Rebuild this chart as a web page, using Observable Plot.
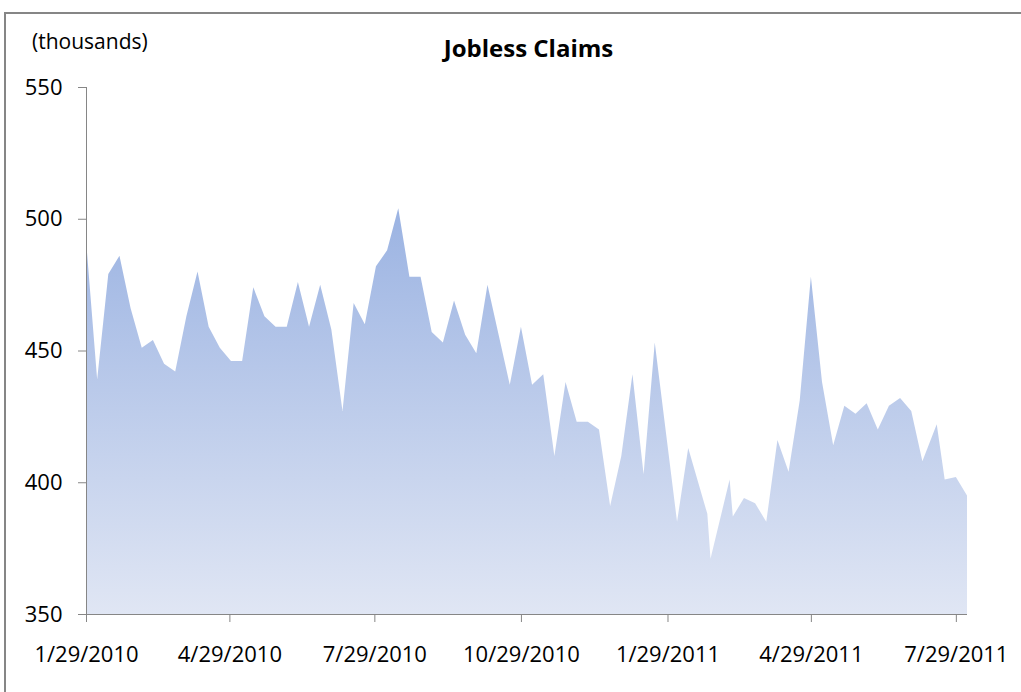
<!DOCTYPE html>
<html>
<head>
<meta charset="utf-8">
<script src="https://cdn.jsdelivr.net/npm/d3@7"></script>
<script src="https://cdn.jsdelivr.net/npm/@observablehq/plot@0.6"></script>
<style>
  html, body { margin: 0; padding: 0; background: #fff; }
  #wrap { position: relative; width: 1021px; height: 692px; overflow: hidden; font-family: "Open Sans", sans-serif; }
  #frame { position: absolute; left: 4px; top: 12px; width: 1100px; height: 800px; border-left: 2px solid #868686; border-top: 2px solid #868686; box-sizing: border-box; }
  #title { position: absolute; left: 0; width: 1057px; top: 36px; text-align: center; font-weight: bold; font-size: 24px; color: #000; line-height: 1; }
  #unit { position: absolute; left: 32px; top: 31px; font-size: 21px; color: #000; line-height: 1; }
  #chart { position: absolute; left: 0; top: 0; }
</style>
</head>
<body>
<div id="wrap">
  <div id="frame"></div>
  <div id="chart"></div>
  <div id="unit">(thousands)</div>
  <div id="title">Jobless Claims</div>
</div>
<script>
const dates = [
  "2010-01-29","2010-02-05","2010-02-12","2010-02-19","2010-02-26","2010-03-05","2010-03-12","2010-03-19","2010-03-26","2010-04-02",
  "2010-04-09","2010-04-16","2010-04-23","2010-04-30","2010-05-07","2010-05-14","2010-05-21","2010-05-28","2010-06-04","2010-06-11",
  "2010-06-18","2010-06-25","2010-07-02","2010-07-09","2010-07-16","2010-07-23","2010-07-30","2010-08-06","2010-08-13","2010-08-20",
  "2010-08-27","2010-09-03","2010-09-10","2010-09-17","2010-09-24","2010-10-01","2010-10-08","2010-10-15","2010-10-22","2010-10-29",
  "2010-11-05","2010-11-12","2010-11-19","2010-11-26","2010-12-03","2010-12-10","2010-12-17","2010-12-24","2010-12-31","2011-01-07",
  "2011-01-14","2011-01-21","2011-01-28","2011-02-04","2011-02-11",
  "2011-02-23","2011-02-25","2011-03-09","2011-03-11",
  "2011-03-18","2011-03-25","2011-04-01","2011-04-08","2011-04-15","2011-04-22","2011-04-29","2011-05-06","2011-05-13","2011-05-20",
  "2011-05-27","2011-06-03","2011-06-10","2011-06-17","2011-06-24","2011-07-01","2011-07-08","2011-07-17","2011-07-22","2011-07-29",
  "2011-08-05"
];
const claims = [
  492, 439, 479, 486, 466, 451, 454, 445, 442, 463,
  480, 459, 451, 446, 446, 474, 463, 459, 459, 476,
  459, 475, 458, 427, 468, 460, 482, 488, 504, 478,
  478, 457, 453, 469, 456, 449, 475, 456, 437, 459,
  437, 441, 410, 438, 423, 423, 420, 391, 410, 441,
  403, 453, 419, 385, 413,
  388, 371, 401, 387,
  394, 392, 385, 416, 404, 431, 478, 438, 414, 429,
  426, 430, 420, 429, 432, 427, 408, 422, 401, 402,
  395
];
const xTicks = ["2010-01-29","2010-04-29","2010-07-29","2010-10-29","2011-01-29","2011-04-29","2011-07-29"];
const yTicks = [350, 400, 450, 500, 550];
const yDomain = [350, 550];

const parse = d3.utcParse("%Y-%m-%d");
const data = dates.map((d, i) => ({date: parse(d), value: claims[i]}));
const fmt = d => `${d.getUTCMonth() + 1}/${d.getUTCDate()}/${d.getUTCFullYear()}`;

const chart = Plot.plot({
  width: 1021,
  height: 692,
  marginLeft: 86,
  marginRight: 54,
  marginTop: 87,
  marginBottom: 78,
  style: {fontFamily: "'Open Sans', sans-serif", background: "transparent", overflow: "visible"},
  x: {type: "utc", domain: [data[0].date, data[data.length - 1].date]},
  y: {domain: yDomain},
  marks: [
    Plot.areaY(data, {x: "date", y1: yDomain[0], y2: "value", fill: "url(#jcgrad)", curve: "linear"}),
    Plot.ruleX([data[0].date], {stroke: "#868686", strokeWidth: 1}),
    Plot.ruleY([yDomain[0]], {stroke: "#868686", strokeWidth: 1}),
    Plot.axisX({ticks: xTicks.map(parse), tickFormat: fmt, tickSize: 8, tickPadding: 24, stroke: "#868686", fill: "#000", fontSize: 22, label: null}),
    Plot.axisY({ticks: yTicks, tickSize: 8, tickPadding: 16, stroke: "#868686", fill: "#000", fontSize: 22, label: null})
  ]
});

const svg = d3.select(chart);
const defs = svg.insert("defs", ":first-child");
const g = defs.append("linearGradient").attr("id", "jcgrad").attr("x1", 0).attr("y1", 0).attr("x2", 0).attr("y2", 1);
g.append("stop").attr("offset", "0%").attr("stop-color", "#9bb3e2");
g.append("stop").attr("offset", "100%").attr("stop-color", "#e0e6f4");

document.getElementById("chart").appendChild(chart);
</script>
</body>
</html>
